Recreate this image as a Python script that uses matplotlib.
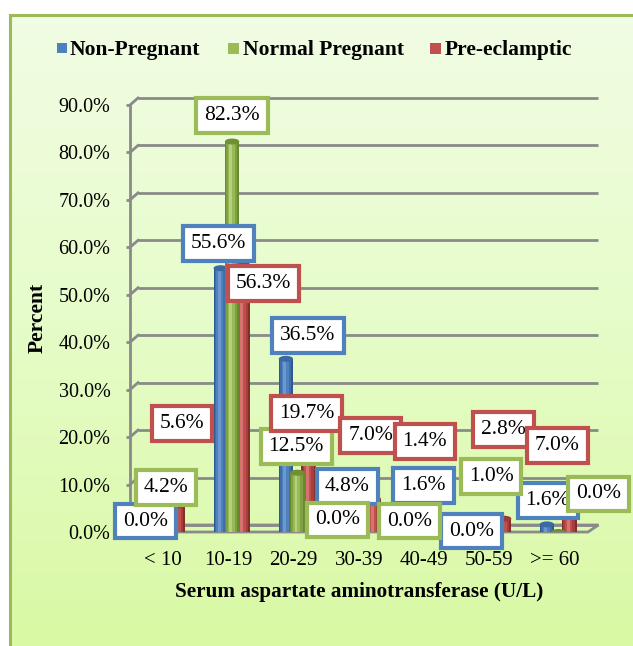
import numpy as np
import matplotlib
matplotlib.use("Agg")
import matplotlib.pyplot as plt
from matplotlib.patches import Rectangle, Polygon, Ellipse
from matplotlib.colors import LinearSegmentedColormap

plt.rcParams['font.family'] = ['Liberation Serif', 'DejaVu Serif']

# ---------------- data ----------------
categories = ["< 10", "10-19", "20-29", "30-39", "40-49", "50-59", ">= 60"]
series_names = ["Non-Pregnant", "Normal Pregnant", "Pre-eclamptic"]
non_pregnant = [0.0, 55.6, 36.5, 4.8, 1.6, 0.0, 1.6]
normal_pregnant = [4.2, 82.3, 12.5, 0.0, 0.0, 1.0, 0.0]
pre_eclamptic = [5.6, 56.3, 19.7, 7.0, 1.4, 2.8, 7.0]
yticks = [0, 10, 20, 30, 40, 50, 60, 70, 80, 90]

# ---------------- styles ----------------
base_cols = ["#4f81bd", "#9bbb59", "#c0504d"]
layer_cols = [
    ["#2d5a92", "#3e6fab", "#4f81bd", "#6d98cf"],
    ["#6a8a30", "#7fa043", "#98b958", "#b3d279"],
    ["#882c2a", "#a63e3b", "#c0504d", "#d8736f"],
]
cap_cols = ["#3b6aa3", "#6f8f35", "#9a3b38"]
layer_w = [1.0, 0.78, 0.5, 0.2]
layer_dx = [0.0, -0.005, -0.012, -0.02]
bar_offsets = [-0.12, 0.055, 0.225]
bar_width = 0.22
# label offsets in pixels (dx, dy up) relative to bar top
label_off = [
    [(-10, 11), (-2, 25), (22, 23), (-4, 23), (7, 39), (-10, 1), (1, 24)],
    [(-1, 25), (0, 26), (-1, 26), (-25, 12), (-18, 11), (-2, 51), (40, 38)],
    [(4, 82), (20, -19), (-2, 25), (-3, 63), (-14, 84), (-1, 89), (-12, 53)],
]

W, H = 633, 646
fig = plt.figure(figsize=(W / 100, H / 100), dpi=100)
fig.patch.set_facecolor("white")

# background gradient panel with green frame
bg = fig.add_axes([9 / W, 0, 1 - 9 / W, (H - 14) / H])
bg.set_axis_off()
cmap = LinearSegmentedColormap.from_list("bg", ["#f1fde4", "#e6fcc8", "#d9f9a4"])
grad = np.linspace(0, 1, 256).reshape(-1, 1)
bg.imshow(grad, aspect="auto", cmap=cmap, extent=[0, 1, 0, 1], origin="upper")
bg.set_xlim(0, 1)
bg.set_ylim(0, 1)
bg.plot([0.002, 0.002], [0, 0.998], color="#9bbb59", lw=2.2, clip_on=False)
bg.plot([0.002, 1.0], [0.998, 0.998], color="#9bbb59", lw=2.2, clip_on=False)

# main axes (front plane)
axL, axR = 130, 588
y0px, y90px = 532, 105
ax = fig.add_axes([axL / W, (H - y0px) / H, (axR - axL) / W, (y0px - y90px) / H])
ax.patch.set_alpha(0)
xlim = (-0.51, 6.51)
ax.set_xlim(*xlim)
ax.set_ylim(0, 90)
for s in ax.spines.values():
    s.set_visible(False)

px_x = (xlim[1] - xlim[0]) / (axR - axL)  # data units per pixel (x)
px_y = 90 / (y0px - y90px)                # data units per pixel (y)
ddx, ddy = 8 * px_x, 7 * px_y           # depth offset

grid_col = "#8a8a8a"
for v in yticks:
    ax.plot([xlim[0] + ddx, xlim[1] + 1.3 * ddx], [v + ddy, v + ddy], color=grid_col, lw=2, zorder=1,
            clip_on=False, solid_capstyle="butt")
    ax.plot([xlim[0], xlim[0] + ddx], [v, v + ddy], color=grid_col, lw=2, zorder=1, clip_on=False)
ax.plot([xlim[0], xlim[0]], [0, 90], color=grid_col, lw=2, zorder=2, clip_on=False)
floor = Polygon([[xlim[0], 0], [xlim[1], 0], [xlim[1] + 1.3 * ddx, ddy], [xlim[0] + ddx, ddy]],
                closed=True, fill=False, edgecolor=grid_col, lw=2, zorder=1.5, clip_on=False)
ax.add_patch(floor)

ax.set_yticks(yticks)
ax.set_yticklabels([f"{v:.1f}%" for v in yticks], fontsize=14.5)
ax.tick_params(axis="y", length=3, width=2, color=grid_col, pad=11)
x = np.arange(len(categories))
ax.set_xticks(x)
ax.set_xticklabels(categories, fontsize=15)
ax.tick_params(axis="x", length=0, pad=13.5)

all_series = [non_pregnant, normal_pregnant, pre_eclamptic]
zorders = [3, 5, 4]
cap_h = 6 * px_y
for si, vals in enumerate(all_series):
    xs = x + bar_offsets[si]
    z = zorders[si]
    for li in range(len(layer_w)):
        ax.bar(xs + layer_dx[li], vals, width=bar_width * layer_w[li], color=layer_cols[si][li],
               zorder=z + 0.01 * li)
    for xi, v in zip(xs, vals):
        ax.add_patch(Ellipse((xi, v), bar_width, cap_h, facecolor=cap_cols[si], edgecolor="none",
                             zorder=z + 0.05))

for si, vals in enumerate(all_series):
    xs = x + bar_offsets[si]
    for i, v in enumerate(vals):
        dx, dy = label_off[si][i]
        ax.annotate(f"{v:.1f}%", xy=(xs[i], v), xytext=(dx, dy), textcoords="offset pixels",
                    ha="center", va="center", fontsize=15.5, zorder=10 + si,
                    bbox=dict(boxstyle="square,pad=0.37", fc="white", ec=base_cols[si], lw=3))

# axis titles
fig.text(38 / W, 1 - 318 / H, "Percent", rotation=90, ha="center", va="center",
         fontsize=15.5, fontweight="bold")
fig.text((axL + axR) / 2 / W, 1 - 592 / H, "Serum aspartate aminotransferase (U/L)",
         ha="center", va="center", fontsize=15.3, fontweight="bold")

# legend (manual placement)
leg_y = 1 - 48 / H
leg_marker_x = [57, 228, 430]
leg_text_x = [70, 243, 445]
marker_sz = [10, 11, 11]
for c, name, mx, tx, ms in zip(base_cols, series_names, leg_marker_x, leg_text_x, marker_sz):
    fig.patches.append(Rectangle((mx / W, leg_y - ms / 2 / H), ms / W, ms / H, transform=fig.transFigure,
                                 facecolor=c, edgecolor="none"))
    fig.text(tx / W, leg_y, name, ha="left", va="center_baseline", fontsize=15.5, fontweight="bold")

fig.savefig("out.png", dpi=100)
